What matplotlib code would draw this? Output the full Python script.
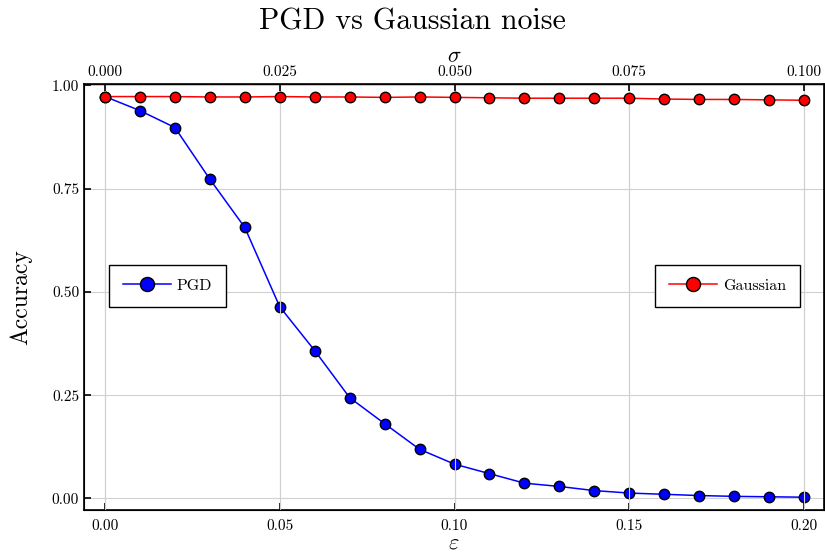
import matplotlib
matplotlib.use('Agg')
import matplotlib.pyplot as plt
import numpy as np

plt.rcParams['font.family'] = 'serif'
plt.rcParams['font.serif'] = ['cmr10']
plt.rcParams['mathtext.fontset'] = 'cm'
plt.rcParams['axes.formatter.use_mathtext'] = True

# PGD attack strength vs accuracy
eps = [0.00, 0.01, 0.02, 0.03, 0.04, 0.05, 0.06, 0.07, 0.08, 0.09, 0.10,
       0.11, 0.12, 0.13, 0.14, 0.15, 0.16, 0.17, 0.18, 0.19, 0.20]
pgd_acc = [0.973, 0.939, 0.898, 0.773, 0.656, 0.464, 0.358, 0.244, 0.181, 0.119, 0.083,
           0.060, 0.037, 0.029, 0.019, 0.013, 0.010, 0.007, 0.005, 0.004, 0.003]

# Gaussian noise level vs accuracy
sigma = [0.000, 0.005, 0.010, 0.015, 0.020, 0.025, 0.030, 0.035, 0.040, 0.045, 0.050,
         0.055, 0.060, 0.065, 0.070, 0.075, 0.080, 0.085, 0.090, 0.095, 0.100]
gauss_acc = [0.973, 0.973, 0.973, 0.972, 0.972, 0.973, 0.972, 0.972, 0.971, 0.972, 0.971,
             0.970, 0.969, 0.969, 0.969, 0.969, 0.967, 0.966, 0.966, 0.965, 0.964]

eps_ticks = [0.00, 0.05, 0.10, 0.15, 0.20]
sigma_ticks = [0.000, 0.025, 0.050, 0.075, 0.100]
acc_ticks = [0.00, 0.25, 0.50, 0.75, 1.00]

fig = plt.figure(figsize=(8.25, 5.53), dpi=100)
ax = fig.add_axes([84 / 825, 1 - 510 / 553, 740 / 825, 426 / 553])

ax.plot(eps, pgd_acc, color='blue', lw=1.1, marker='o', markersize=7.5,
        markerfacecolor='blue', markeredgecolor='black', markeredgewidth=1.0, label='PGD')
ax.set_xlim(-0.006, 0.2057)
ax.set_ylim(-0.028, 1.0034)
ax.set_xticks(eps_ticks)
ax.set_xticklabels([f'{t:.2f}' for t in eps_ticks])
ax.set_yticks(acc_ticks)
ax.set_yticklabels([f'{t:.2f}' for t in acc_ticks])
ax.grid(True, color='#d0d0d0', lw=0.8)
ax.set_axisbelow(True)
ax.tick_params(direction='in', labelsize=11, length=5, width=1.2, top=False, right=False)
ax.tick_params(axis='x', pad=7)
ax.set_xlabel(r'$\varepsilon$', fontsize=16, labelpad=0)
ax.set_ylabel('Accuracy', fontsize=17, labelpad=14)
for s in ax.spines.values():
    s.set_linewidth(1.2)

ax2 = ax.twiny()
ax2.plot(sigma, gauss_acc, color='red', lw=1.1, marker='o', markersize=7.5,
         markerfacecolor='red', markeredgecolor='black', markeredgewidth=1.0, label='Gaussian')
ax2.set_xlim(-0.003, 0.10285)
ax2.set_xticks(sigma_ticks)
ax2.set_xticklabels([f'{t:.3f}' for t in sigma_ticks])
ax2.grid(True, axis='x', color='#d0d0d0', lw=0.8)
ax2.tick_params(direction='in', labelsize=11, length=5, width=1.2)
ax2.set_xlabel(r'$\sigma$', fontsize=16, labelpad=2)

leg_kw = dict(fontsize=11.5, fancybox=False, edgecolor='black', framealpha=1,
              markerscale=1.35, handlelength=3.0, borderpad=0.85, handletextpad=0.4,
              borderaxespad=0)
leg1 = ax.legend(loc='center left', bbox_to_anchor=(0.0338, 0.526), **leg_kw)
leg1.get_frame().set_linewidth(1.0)
leg2 = ax2.legend(loc='center right', bbox_to_anchor=(0.9676, 0.526), **leg_kw)
leg2.get_frame().set_linewidth(1.0)

fig.suptitle('PGD vs Gaussian noise', fontsize=21.5, y=0.985)

plt.savefig('out.png', dpi=100)
